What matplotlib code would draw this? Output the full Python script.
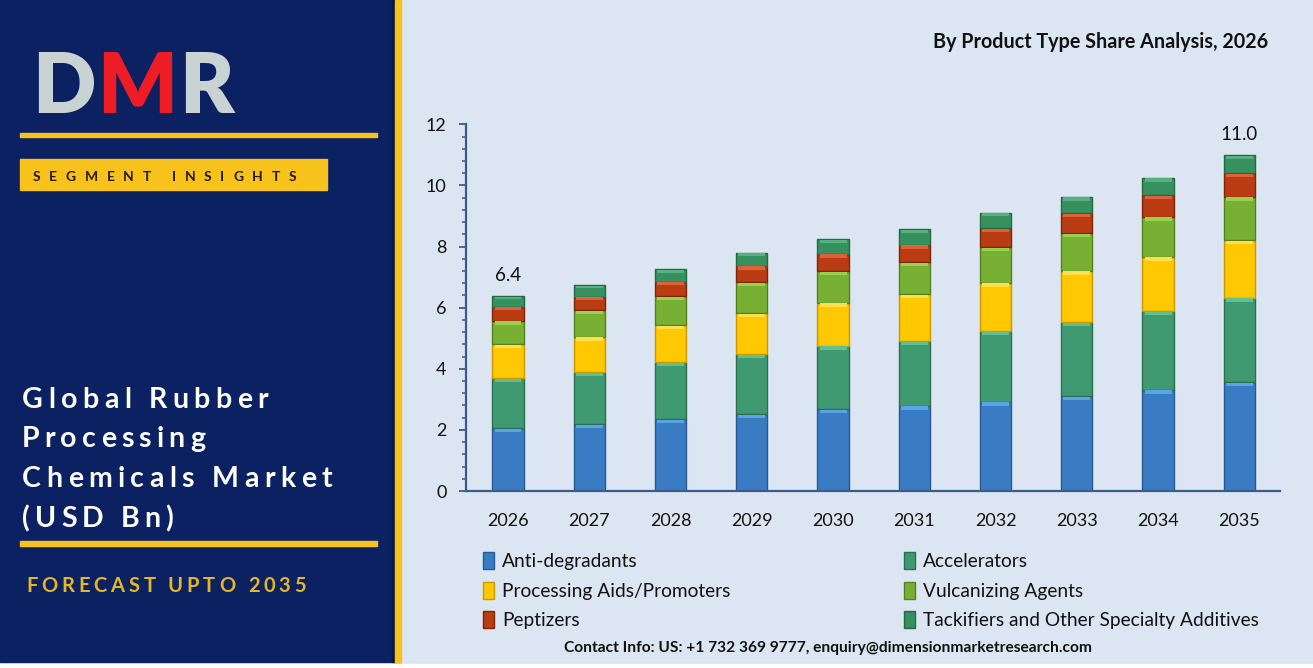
import matplotlib
matplotlib.use("Agg")
import matplotlib.pyplot as plt
from matplotlib.patches import Rectangle
from matplotlib.font_manager import FontProperties
import numpy as np

# ---- data (USD Bn) ----
years = ["2026", "2027", "2028", "2029", "2030", "2031", "2032", "2033", "2034", "2035"]
anti_degradants = [2.05, 2.18, 2.35, 2.51, 2.67, 2.79, 2.92, 3.11, 3.31, 3.56]
accelerators = [1.64, 1.70, 1.86, 1.96, 2.08, 2.12, 2.32, 2.42, 2.58, 2.77]
processing_aids = [1.11, 1.17, 1.22, 1.34, 1.41, 1.53, 1.58, 1.68, 1.78, 1.88]
vulcanizing = [0.77, 0.87, 0.95, 1.02, 1.04, 1.04, 1.15, 1.22, 1.31, 1.42]
peptizers = [0.46, 0.44, 0.47, 0.54, 0.56, 0.58, 0.63, 0.66, 0.71, 0.77]
tackifiers = [0.35, 0.38, 0.40, 0.43, 0.48, 0.50, 0.51, 0.54, 0.56, 0.59]
labels = ["Anti-degradants", "Accelerators", "Processing Aids/Promoters",
          "Vulcanizing Agents", "Peptizers", "Tackifiers and Other Specialty Additives"]
shown_totals = {0: "6.4", 9: "11.0"}

colors = ["#3a7cc4", "#3f9a72", "#ffc800", "#78b034", "#b93c12", "#36915f"]
edges = ["#28598f", "#2b6e50", "#c99a00", "#55801f", "#7e2508", "#256843"]
highlights = ["#5aa3e6", "#62c08f", "#ffe04a", "#98d050", "#e0603a", "#55b27f"]

W, H = 1313, 668
NAVY = "#0b2161"
GOLD = "#f7c21b"
BG = "#dce6f2"
FONT = "Lato"


def fx(x):
    return x / W


def fy(y):
    return 1 - y / H


fig = plt.figure(figsize=(W / 100, H / 100), dpi=100, facecolor=BG)
renderer = fig.canvas.get_renderer()


def rect(x0, y0, x1, y1, color):
    fig.patches.append(Rectangle((fx(x0), fy(y1)), (x1 - x0) / W, (y1 - y0) / H,
                                 transform=fig.transFigure, color=color, zorder=0))


def spaced_text(x0, x1, y, s, size, color, weight="bold", family=FONT):
    # draw letter by letter so the line fills x0..x1 (letter spacing)
    fp = FontProperties(family=family, size=size, weight=weight)
    widths = [renderer.get_text_width_height_descent(ch, fp, ismath=False)[0] for ch in s]
    track = ((x1 - x0) - sum(widths)) / (len(s) - 1)
    cols = color if isinstance(color, list) else [color] * len(s)
    x = x0
    for ch, w, c in zip(s, widths, cols):
        fig.text(fx(x), fy(y), ch, fontproperties=fp, color=c, ha="left", va="baseline")
        x += w + track


# ---- left panel ----
rect(0, 0, 395, 662, NAVY)
rect(392, 0, 395, 662, "#081845")
rect(395, 0, 401, 664, GOLD)
rect(0, 664, W, H, "white")

spaced_text(32, 234, 113, "DMR", 60, ["#c9d3d4", "#ee1c25", "#c9d3d4"], weight="heavy")
rect(20, 133, 377, 137, GOLD)
rect(20, 159, 327, 190, GOLD)
spaced_text(33, 296, 181, "SEGMENT INSIGHTS", 10, "#2a1a0a")

spaced_text(22, 268, 408, "Global Rubber", 20.5, "white")
spaced_text(22, 205, 447, "Processing", 20.5, "white")
spaced_text(22, 332, 487, "Chemicals Market", 20.5, "white")
spaced_text(22, 173, 527, "(USD Bn)", 20.5, "white")
rect(20, 541, 377, 546, GOLD)
spaced_text(26, 306, 592, "FORECAST UPTO 2035", 14.5, "#e4b726")

# ---- chart ----
fig.text(fx(1268), fy(42), "By Product Type Share Analysis, 2026", ha="right", va="center",
         fontsize=14.2, fontweight="bold", family=FONT, color="#111111")

ax = fig.add_axes([fx(466), fy(491), (1280 - 466) / W, (491 - 124.3) / H])
ax.set_facecolor(BG)
x = np.arange(len(years))
bw = 0.385
series = [anti_degradants, accelerators, processing_aids, vulcanizing, peptizers, tackifiers]
bottom = np.zeros(len(years))
handles = []
for vals, c, e, hl, lab in zip(series, colors, edges, highlights, labels):
    vals = np.array(vals)
    h = ax.bar(x, vals, bw, bottom=bottom, color=c, edgecolor=e, linewidth=1.0, label=lab, zorder=2)
    handles.append(h)
    # bevel highlight along the top of each segment
    cap = np.minimum(0.11, vals * 0.2)
    ax.bar(x, cap, bw * 0.86, bottom=bottom + vals - cap - 0.02, color=hl, linewidth=0, zorder=3)
    bottom = bottom + vals

for i, txt in shown_totals.items():
    ax.annotate(txt, (x[i], bottom[i]), xytext=(0, 9), textcoords="offset points",
                ha="center", va="bottom", fontsize=13.5, family=FONT, color="#111111")

ax.set_xlim(-0.517, 9.5)
ax.set_ylim(0, 12)
ax.set_yticks(np.arange(0, 13, 2))
ax.set_yticks(np.arange(0, 12.01, 0.4), minor=True)
ax.set_xticks(x)
ax.set_xticklabels(years)
for sp in ["top", "right"]:
    ax.spines[sp].set_visible(False)
for sp in ["left", "bottom"]:
    ax.spines[sp].set_color("#3d5a8c")
    ax.spines[sp].set_linewidth(1.6)
ax.tick_params(axis="y", which="major", length=5, width=1.3, color="#3d5a8c", pad=9,
               labelsize=13, labelcolor="#111111")
ax.tick_params(axis="y", which="minor", length=3, width=1.1, color="#3d5a8c")
ax.tick_params(axis="x", length=0, pad=16, labelsize=13, labelcolor="#111111")
for t in ax.get_xticklabels() + ax.get_yticklabels():
    t.set_family(FONT)

# legend in two columns, rows read left to right
leg_kw = dict(frameon=False, handlelength=0.55, handleheight=1.0,
              handletextpad=0.45, labelspacing=0.58, loc="upper left",
              prop=FontProperties(family=FONT, size=13.8))
leg1 = fig.legend(handles[0::2], labels[0::2], bbox_to_anchor=(fx(466), fy(535)), **leg_kw)
leg2 = fig.legend(handles[1::2], labels[1::2], bbox_to_anchor=(fx(887), fy(535)), **leg_kw)
for leg in (leg1, leg2):
    for t in leg.get_texts():
        t.set_color("#111111")

fig.text(fx(828), fy(648), "Contact Info: US: +1 732 369 9777, enquiry@dimensionmarketresearch.com",
         ha="center", va="center", fontsize=11.2, fontweight="bold", family=FONT, color="#111111")

fig.savefig("out.png", dpi=100, facecolor=BG)
